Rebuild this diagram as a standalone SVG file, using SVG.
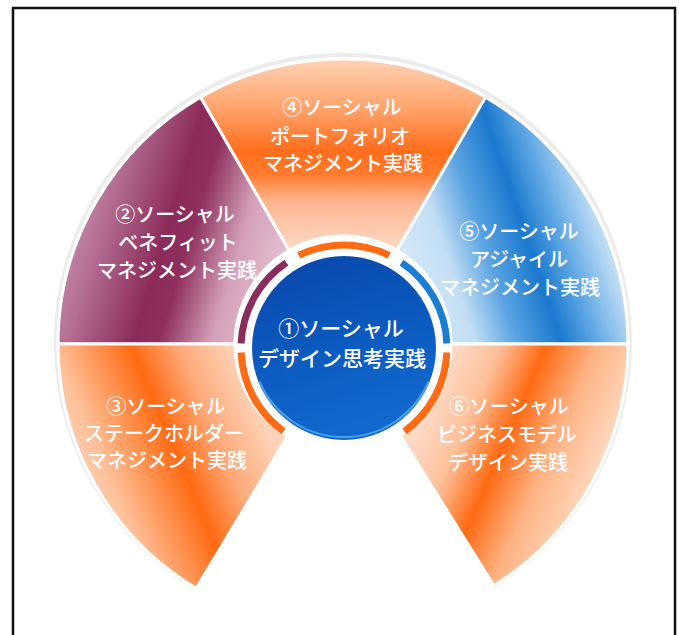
<svg xmlns="http://www.w3.org/2000/svg" width="679" height="635" viewBox="0 0 679 635">
  <style>
    .sec { stroke: #ffffff; stroke-width: 3; stroke-linejoin: round; }
    .ring { fill: none; stroke-width: 7; stroke-linecap: butt; }
    .lbl { font-family: "Noto Sans CJK JP", "Noto Sans", sans-serif; font-size: 20px; font-weight: 500; fill: #ffffff; text-anchor: middle; }
    .lblc { font-family: "Noto Sans CJK JP", "Noto Sans", sans-serif; font-size: 21px; font-weight: 500; fill: #ffffff; text-anchor: middle; }
  </style>
  <defs>
    <linearGradient id="g4" gradientUnits="userSpaceOnUse" x1="0" y1="59" x2="0" y2="250">
      <stop offset="0" stop-color="#FDD3B6"/>
      <stop offset="0.27" stop-color="#FFA068"/>
      <stop offset="0.48" stop-color="#FF6E1C"/>
      <stop offset="0.6" stop-color="#FF7A2C"/>
      <stop offset="0.75" stop-color="#FDB690"/>
      <stop offset="1" stop-color="#FCDAC6"/>
    </linearGradient>
    <linearGradient id="g2" gradientUnits="userSpaceOnUse" x1="25" y1="250" x2="263.5" y2="321.6">
      <stop offset="0" stop-color="#D9A8C0"/>
      <stop offset="0.27" stop-color="#B36E92"/>
      <stop offset="0.52" stop-color="#8C2B5A"/>
      <stop offset="0.62" stop-color="#8E2F5D"/>
      <stop offset="0.82" stop-color="#D3A0B9"/>
      <stop offset="1" stop-color="#E4BDCF"/>
    </linearGradient>
    <linearGradient id="s3" gradientUnits="userSpaceOnUse" x1="40" y1="427" x2="233.2" y2="345.1">
      <stop offset="0" stop-color="#FDD8C2"/>
      <stop offset="0.2" stop-color="#FDC29C"/>
      <stop offset="0.55" stop-color="#FF6A12"/>
      <stop offset="0.76" stop-color="#FDAA7A"/>
      <stop offset="1" stop-color="#FDD4BA"/>
    </linearGradient>
    <linearGradient id="s6" gradientUnits="userSpaceOnUse" x1="420" y1="434" x2="581.1" y2="504">
      <stop offset="0" stop-color="#FDD8C2"/>
      <stop offset="0.22" stop-color="#FDC09A"/>
      <stop offset="0.46" stop-color="#FF6A12"/>
      <stop offset="0.72" stop-color="#FDB282"/>
      <stop offset="1" stop-color="#FDD6BC"/>
    </linearGradient>
    <linearGradient id="s5" gradientUnits="userSpaceOnUse" x1="380" y1="190" x2="614" y2="111.2">
      <stop offset="0" stop-color="#D5E8F7"/>
      <stop offset="0.17" stop-color="#C2DEF4"/>
      <stop offset="0.33" stop-color="#5AA3E2"/>
      <stop offset="0.5" stop-color="#1A78CE"/>
      <stop offset="0.64" stop-color="#62A9E4"/>
      <stop offset="0.8" stop-color="#C2DEF4"/>
      <stop offset="1" stop-color="#D2E7F7"/>
    </linearGradient>
    <linearGradient id="core" x1="0" y1="0" x2="0.3" y2="1">
      <stop offset="0" stop-color="#0A46AA"/>
      <stop offset="0.5" stop-color="#0B58BD"/>
      <stop offset="1" stop-color="#1169CD"/>
    </linearGradient>
  </defs>

  <rect x="13" y="8" width="662" height="640" fill="#ffffff" stroke="#111111" stroke-width="2.5"/>

  <path d="M 494 585.7 A 287 287 0 1 0 196.2 588.3" fill="none" stroke="#ececec" stroke-width="4"/>

  <g id="node4">
    <path class="sec" fill="url(#g4)" d="M 485.5 97.2 A 285 285 0 0 0 200.5 97.2 L 289 250.5 A 108 108 0 0 1 397 250.5 Z"/>
    <path class="ring" stroke="#FF6A13" d="M 389.2 255.4 A 103 103 0 0 0 298.8 255.4"/>
    <text class="lbl" x="342" y="115">④ソーシャル</text>
    <text class="lbl" x="340" y="144">ポートフォリオ</text>
    <text class="lbl" x="343" y="171">マネジメント実践</text>
  </g>

  <g id="node2">
    <path class="sec" fill="url(#g2)" d="M 200.5 97.2 A 285 285 0 0 0 58 344 L 235 344 A 108 108 0 0 1 289 250.5 Z"/>
    <path class="ring" stroke="#8B2D5C" d="M 286.4 262.6 A 103 103 0 0 0 241.1 343.5"/>
    <text class="lbl" x="175" y="222">②ソーシャル</text>
    <text class="lbl" x="178" y="250">ベネフィット</text>
    <text class="lbl" x="177" y="278">マネジメント実践</text>
  </g>

  <g id="node3">
    <path class="sec" fill="url(#s3)" d="M 58 344 A 285 285 0 0 0 196.2 588.3 L 287.4 436.6 A 108 108 0 0 1 235 344 Z"/>
    <path class="ring" stroke="#FF6A13" d="M 241.1 352.5 A 103 103 0 0 0 283.5 431.3"/>
    <text class="lbl" x="166" y="414">③ソーシャル</text>
    <text class="lbl" x="164" y="441">ステークホルダー</text>
    <text class="lbl" x="167" y="468">マネジメント実践</text>
  </g>

  <g id="node5">
    <path class="sec" fill="url(#s5)" d="M 628 344 A 285 285 0 0 0 485.5 97.2 L 397 250.5 A 108 108 0 0 1 451 344 Z"/>
    <path class="ring" stroke="#1A7FD4" d="M 446.9 343.5 A 103 103 0 0 0 401.6 262.6"/>
    <text class="lbl" x="519" y="239">⑤ソーシャル</text>
    <text class="lbl" x="519" y="267">アジャイル</text>
    <text class="lbl" x="520" y="295">マネジメント実践</text>
  </g>

  <g id="node6">
    <path class="sec" fill="url(#s6)" d="M 494 585.7 A 285 285 0 0 0 628 344 L 451 344 A 108 108 0 0 1 400.2 435.6 Z"/>
    <path class="ring" stroke="#FF6A13" d="M 404.5 431.3 A 103 103 0 0 0 446.9 352.5"/>
    <text class="lbl" x="509" y="414">⑥ソーシャル</text>
    <text class="lbl" x="507" y="442">ビジネスモデル</text>
    <text class="lbl" x="508" y="470">デザイン実践</text>
  </g>

  <g id="node1">
    <circle cx="344" cy="348" r="92" fill="url(#core)"/>
    <path d="M 259.5 381.5 A 92 92 0 0 0 428.5 381.5" fill="none" stroke="#4A9FE6" stroke-width="2"/>
    <text class="lblc" x="341" y="336">①ソーシャル</text>
    <text class="lblc" x="342" y="366">デザイン思考実践</text>
  </g>

  <g id="connectors"/>
</svg>
